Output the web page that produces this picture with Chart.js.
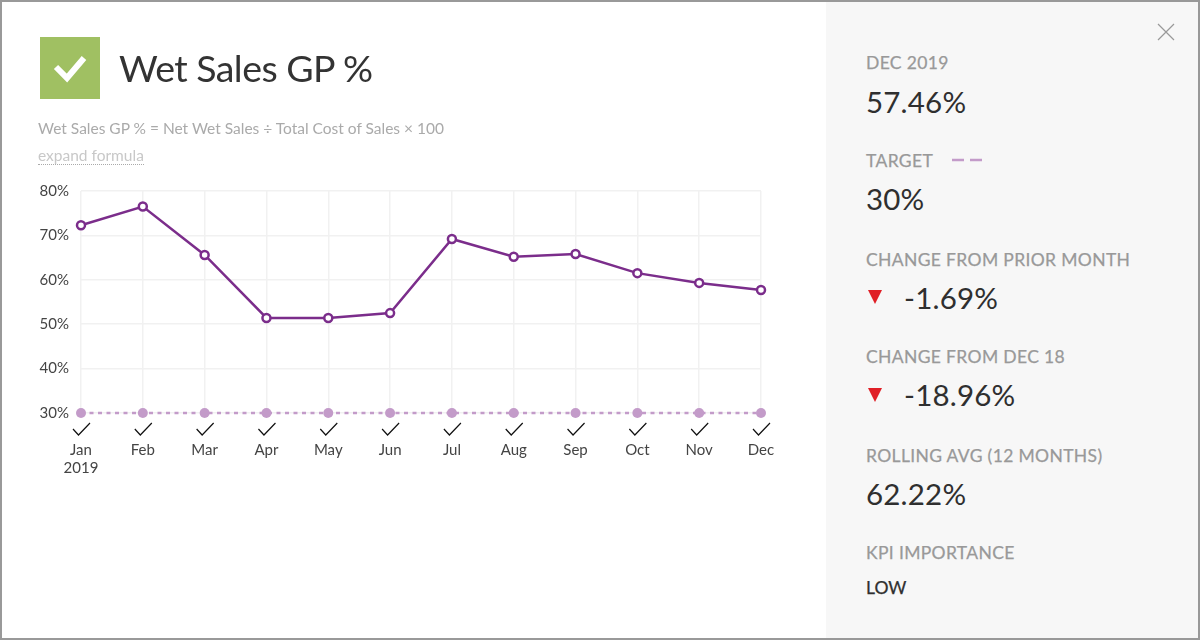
<!DOCTYPE html>
<html><head><meta charset="utf-8">
<script src="https://cdn.jsdelivr.net/npm/chart.js@4"></script>
<style>
html,body{margin:0;padding:0;background:#fff}
body{width:1200px;height:640px;position:relative;overflow:hidden;font-family:Lato,sans-serif}
#frame{position:absolute;left:0;top:0;width:1196px;height:636px;border:2px solid #999;pointer-events:none;z-index:5}
#side{position:absolute;left:826px;top:0;width:374px;height:640px;background:#f7f7f7}
#cw{position:absolute;left:0;top:0;width:826px;height:640px}
.t{position:absolute;white-space:nowrap;line-height:1}
.lab{left:866px;font-size:17.5px;color:#999;font-weight:400;letter-spacing:.35px;-webkit-text-stroke:.25px #999}
.val{left:866px;font-size:29.5px;color:#2f2f2f;font-weight:400;letter-spacing:.2px}
.tri{position:absolute;left:868px;width:0;height:0;border-left:7.5px solid transparent;border-right:7.5px solid transparent;border-top:14px solid #e01f26}
#badge{position:absolute;left:39.5px;top:37px;width:60px;height:62px;background:#a0c062}
</style></head><body>
<div id="cw"><canvas id="c" width="826" height="640"></canvas></div>
<div id="side"></div>
<div id="badge"><svg width="60" height="62"><path d="M16 30 L27 41 L44 21" fill="none" stroke="#fff" stroke-width="6"/></svg></div>
<div class="t" style="left:119px;top:49px;font-size:37.5px;color:#333;letter-spacing:-.55px">Wet Sales GP %</div>
<div class="t" style="left:38px;top:121px;font-size:15.5px;color:#aaa;letter-spacing:0">Wet Sales GP % = Net Wet Sales ÷ Total Cost of Sales × 100</div>
<div class="t" style="left:38px;top:148px;font-size:15.5px;color:#c8c8c8;letter-spacing:0;border-bottom:1px dotted #aaa;padding-bottom:0">expand formula</div>
<svg style="position:absolute;left:1157px;top:23px" width="18" height="18"><path d="M1 1L17 17M17 1L1 17" stroke="#999" stroke-width="1.2" fill="none"/></svg>
<div class="t lab" style="top:54px">DEC 2019</div>
<div class="t val" style="top:87px">57.46%</div>
<div class="t lab" style="top:152px">TARGET</div>
<svg style="position:absolute;left:952px;top:158px" width="32" height="4"><path d="M0 2H12M18 2H30" stroke="#c39bc9" stroke-width="2.5"/></svg>
<div class="t val" style="top:184px">30%</div>
<div class="t lab" style="top:251px">CHANGE FROM PRIOR MONTH</div>
<div class="tri" style="top:290px"></div>
<div class="t val" style="left:904px;top:283px">-1.69%</div>
<div class="t lab" style="top:348px">CHANGE FROM DEC 18</div>
<div class="tri" style="top:388px"></div>
<div class="t val" style="left:904px;top:380px">-18.96%</div>
<div class="t lab" style="top:447px">ROLLING AVG (12 MONTHS)</div>
<div class="t val" style="top:479px">62.22%</div>
<div class="t lab" style="top:544px">KPI IMPORTANCE</div>
<div class="t" style="left:866px;top:579px;font-size:17.5px;color:#2f2f2f;-webkit-text-stroke:.25px #2f2f2f">LOW</div>
<div id="frame"></div>
<script>
const categories=[['Jan','2019'],'Feb','Mar','Apr','May','Jun','Jul','Aug','Sep','Oct','Nov','Dec'];
const gpValues=[72.3,76.5,65.6,51.4,51.4,52.5,69.2,65.2,65.8,61.5,59.3,57.7];
const targetValues=[30,30,30,30,30,30,30,30,30,30,30,30];
const yTicks=[30,40,50,60,70,80];
const checks={id:'checks',afterDraw(ch){
  const x=ch.scales.x,c=ch.ctx,y0=ch.scales.y.bottom;
  c.save();c.strokeStyle='#111';c.lineWidth=1.2;
  categories.forEach((_,i)=>{const px=x.getPixelForValue(i);
    c.beginPath();c.moveTo(px-8,y0+16);c.lineTo(px-2.5,y0+22);c.lineTo(px+9,y0+10);c.stroke();});
  c.restore();
}};
new Chart(document.getElementById('c'),{type:'line',
 data:{labels:categories,datasets:[
  {label:'Wet Sales GP %',data:gpValues,borderColor:'#7b2d8b',borderWidth:2.5,backgroundColor:'#fff',pointBackgroundColor:'#fff',pointBorderColor:'#7b2d8b',pointBorderWidth:2.5,pointRadius:4,tension:0,clip:false,order:1},
  {label:'Target',data:targetValues,borderColor:'#c39bc9',borderWidth:2.6,borderDash:[4,4.5],backgroundColor:'#c39bc9',pointBackgroundColor:'#c39bc9',pointBorderColor:'#c39bc9',pointBorderWidth:0,pointRadius:5,tension:0,clip:false,order:2}
 ]},
 options:{responsive:false,animation:false,
  layout:{padding:{left:0,right:65,top:191,bottom:0}},
  plugins:{legend:{display:false},tooltip:{enabled:false}},
  scales:{
   x:{offset:false,border:{display:false},grid:{color:'#f1f1f1',lineWidth:1.5,drawTicks:false},
      afterFit(s){s.height=227},
      ticks:{padding:28,maxRotation:0,autoSkip:false,color:'#444',font:{family:'Lato',size:15}}},
   y:{min:30,max:80,border:{display:false},grid:{color:'#f1f1f1',lineWidth:1.5,drawTicks:false},
      afterFit(s){s.width=81},
      afterBuildTicks(s){s.ticks=yTicks.map(v=>({value:v}))},
      ticks:{padding:12,color:'#444',font:{family:'Lato',size:15},callback:v=>v+'%'}}
  }},
 plugins:[checks]});
</script>
</body></html>
